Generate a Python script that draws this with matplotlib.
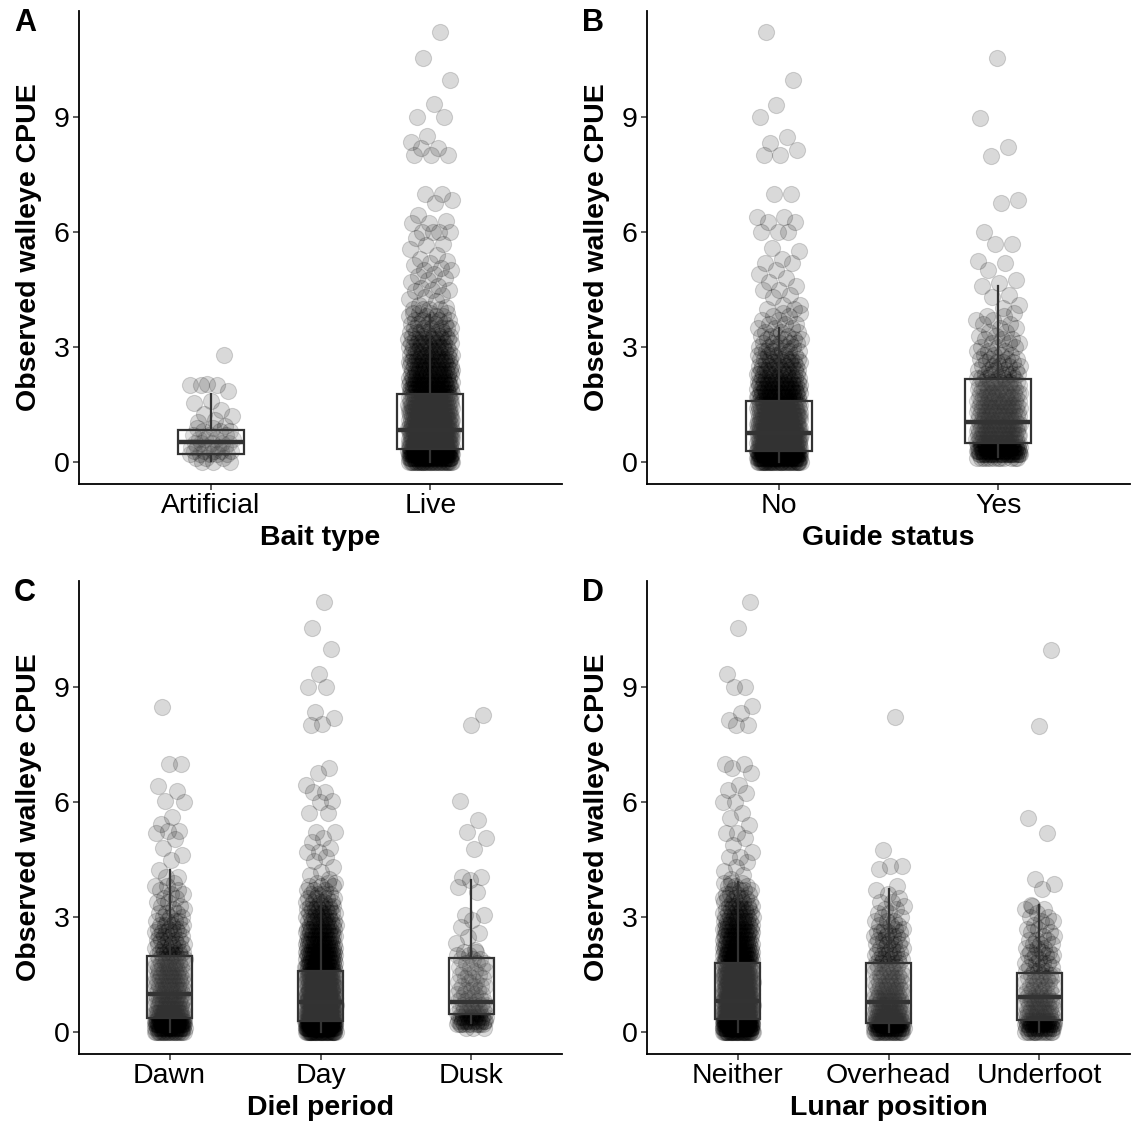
import numpy as np
import matplotlib.pyplot as plt

plt.rcParams['font.family'] = ['Liberation Sans', 'DejaVu Sans']

# CPUE levels for the dense part of each group (0.1 wide bins)
cpue_bins = [0.0, 0.1, 0.2, 0.3, 0.4, 0.5, 0.6, 0.7, 0.8, 0.9,
             1.0, 1.1, 1.2, 1.3, 1.4, 1.5, 1.6, 1.7, 1.8, 1.9,
             2.0, 2.1, 2.2, 2.3, 2.4, 2.5, 2.6, 2.7, 2.8, 2.9,
             3.0, 3.1, 3.2, 3.3, 3.4, 3.5, 3.6, 3.7, 3.8, 3.9]

# number of trips in each bin, and the scattered higher observations
artificial_counts = [3, 3, 5, 5, 5, 5, 4, 3, 3, 2] + [0] * 30
artificial_high = [2.78, 2.04, 2.02, 2.0, 2.0, 1.84, 1.6, 1.55, 1.36, 1.25, 1.2, 1.1, 1.05, 0.95]
live_counts = [35, 35, 40, 40, 38, 37, 33, 32, 30, 30, 28, 27, 25, 25, 23, 22, 20, 20, 18, 18,
               16, 16, 14, 14, 13, 12, 11, 11, 10, 10, 9, 9, 8, 7, 6, 6, 5, 5, 4, 4]
live_high = [11.22, 10.55, 9.97, 9.34, 9.0, 9.0, 8.5, 8.35, 8.2, 8.2, 8.0, 8.0, 8.0,
             7.0, 7.0, 6.84, 6.76, 6.44, 6.3, 6.24, 6.24, 6.0, 6.0, 6.0, 6.0,
             5.85, 5.7, 5.65, 5.55, 5.4, 5.3, 5.25, 5.2, 5.14, 5.05, 5.0, 5.0,
             4.9, 4.85, 4.8, 4.75, 4.7, 4.6, 4.55, 4.5, 4.5, 4.45, 4.35, 4.3,
             4.25, 4.2, 4.1, 4.05, 4.0, 4.0, 4.0, 4.0]

no_counts = [38, 37, 40, 40, 35, 35, 30, 30, 28, 27, 25, 25, 23, 22, 20, 20, 17, 17, 15, 15,
             13, 12, 10, 10, 9, 8, 7, 7, 6, 6, 5, 5, 4, 4, 3, 3, 3, 2, 2, 2]
no_high = [11.22, 9.97, 9.31, 9.0, 8.49, 8.32, 8.14, 8.0, 8.0, 7.0, 7.0, 6.4, 6.4,
           6.27, 6.25, 6.0, 6.0, 6.0, 5.58, 5.5, 5.3, 5.2, 5.2, 5.0, 4.9, 4.8,
           4.7, 4.6, 4.5, 4.5, 4.36, 4.3, 4.1, 4.1, 4.0, 4.0]
yes_counts = [0, 12, 27, 27, 21, 21, 16, 15, 14, 14, 13, 12, 12, 12, 11, 11, 11, 10, 10, 10,
              8, 7, 6, 6, 5, 5, 4, 4, 4, 3, 3, 3, 3, 2, 2, 2, 2, 2, 2, 1]
yes_high = [10.55, 8.97, 8.22, 7.98, 6.84, 6.76, 6.0, 5.7, 5.68, 5.24, 5.2, 5.0,
            4.75, 4.67, 4.59, 4.36, 4.3, 4.1, 4.02]

dawn_counts = [22, 23, 26, 26, 19, 19, 12, 11, 10, 10, 9, 9, 9, 9, 8, 8, 8, 8, 8, 7,
               6, 6, 5, 5, 5, 4, 5, 4, 4, 4, 3, 3, 2, 2, 2, 2, 2, 2, 2, 1]
dawn_high = [8.48, 7.0, 7.0, 6.42, 6.29, 6.03, 6.0, 5.61, 5.43, 5.25, 5.25, 5.19,
             5.03, 4.8, 4.62, 4.49, 4.23, 4.05, 4.05]
day_counts = [38, 37, 40, 40, 35, 35, 30, 30, 28, 27, 25, 25, 23, 22, 20, 20, 18, 17, 15, 15,
              14, 13, 12, 12, 11, 10, 9, 9, 8, 8, 7, 7, 6, 5, 5, 4, 4, 3, 3, 3]
day_high = [11.22, 10.54, 9.99, 9.34, 9.0, 9.0, 8.35, 8.19, 8.04, 8.0, 6.89, 6.76,
            6.44, 6.26, 6.26, 6.03, 6.0, 5.71, 5.71, 5.22, 5.22, 5.06, 4.96, 4.8,
            4.7, 4.7, 4.57, 4.45, 4.3, 4.17, 4.1, 4.0]
dusk_counts = [0, 3, 10, 10, 10, 9, 6, 5, 4, 4, 4, 4, 4, 3, 3, 3, 3, 3, 3, 3,
               2, 2] + [0] * 18
dusk_high = [8.27, 8.01, 6.03, 5.53, 5.22, 5.06, 4.77, 4.05, 4.05, 3.96, 3.79, 3.66,
             3.05, 3.05, 2.92, 2.74, 2.58, 2.48, 2.32, 2.14]

neither_counts = [35, 35, 38, 37, 34, 34, 29, 29, 26, 26, 24, 24, 22, 22, 20, 20, 18, 18, 16, 16,
                  14, 14, 13, 12, 11, 11, 10, 10, 9, 9, 8, 7, 6, 6, 5, 5, 4, 4, 3, 3]
neither_high = [11.22, 10.54, 9.34, 9.0, 9.0, 8.5, 8.32, 8.14, 8.0, 8.0, 7.0, 7.0,
                6.89, 6.76, 6.44, 6.31, 6.23, 6.0, 6.0, 5.71, 5.58, 5.4, 5.19, 5.19,
                5.06, 4.88, 4.7, 4.57, 4.57, 4.43, 4.3, 4.2, 4.1, 4.0]
overhead_counts = [21, 21, 23, 22, 15, 15, 11, 10, 9, 9, 8, 8, 7, 6, 6, 5, 6, 5, 5, 5,
                   4, 4, 4, 4, 4, 4, 4, 3, 3, 3, 2, 2, 2, 1, 2, 1, 1, 1, 0, 0]
overhead_high = [8.23, 4.75, 4.33, 4.33, 4.25, 3.82]
underfoot_counts = [14, 13, 17, 16, 11, 10, 8, 7, 8, 7, 6, 5, 5, 5, 5, 4, 4, 3, 4, 3,
                    4, 3, 3, 3, 3, 2, 2, 2, 2, 2, 2, 1, 2, 1, 0, 0, 0, 0, 0, 0]
underfoot_high = [9.97, 7.98, 5.58, 5.19, 4.0, 3.87, 3.73, 3.31]

# boxplot summaries: lower whisker, Q1, median, Q3, upper whisker
bait_box = [[0.03, 0.21, 0.52, 0.84, 1.78], [0.0, 0.35, 0.84, 1.78, 3.84]]
guide_box = [[0.0, 0.28, 0.75, 1.59, 3.49], [0.14, 0.50, 1.05, 2.17, 4.59]]
diel_box = [[0.0, 0.37, 0.99, 1.98, 4.24], [0.0, 0.28, 0.77, 1.60, 3.57],
            [0.23, 0.48, 0.79, 1.92, 3.96]]
lunar_box = [[0.0, 0.33, 0.81, 1.79, 3.91], [0.0, 0.24, 0.77, 1.80, 3.73],
             [0.0, 0.32, 0.91, 1.55, 3.31]]

panels = [
    ('A', 'Bait type', ['Artificial', 'Live'],
     [(artificial_counts, artificial_high), (live_counts, live_high)], bait_box),
    ('B', 'Guide status', ['No', 'Yes'],
     [(no_counts, no_high), (yes_counts, yes_high)], guide_box),
    ('C', 'Diel period', ['Dawn', 'Day', 'Dusk'],
     [(dawn_counts, dawn_high), (day_counts, day_high), (dusk_counts, dusk_high)], diel_box),
    ('D', 'Lunar position', ['Neither', 'Overhead', 'Underfoot'],
     [(neither_counts, neither_high), (overhead_counts, overhead_high),
      (underfoot_counts, underfoot_high)], lunar_box),
]


def jitter(n, width=0.1):
    # evenly spread horizontal offsets (golden-ratio sequence)
    u = (np.arange(n) * 0.6180339887 + 0.31) % 1.0
    return (2 * u - 1) * width


W, H = 1134, 1124
fig = plt.figure(figsize=(W / 100, H / 100), dpi=100)

# axes boxes in pixels: left, right, top, bottom
boxes = [(79, 562, 10.5, 483.5), (647, 1130, 10.5, 483.5),
         (79, 562, 580.5, 1053.5), (647, 1130, 580.5, 1053.5)]
letter_xy = [(14, 8), (582, 8), (14, 578), (582, 578)]
box_col = '#333333'
FS = 20.5

for (letter, xlab, cats, groups, stats), (l, r, t, b), (lx, ly) in zip(panels, boxes, letter_xy):
    ax = fig.add_axes([l / W, 1 - b / H, (r - l) / W, (b - t) / H])
    for i, (counts, high) in enumerate(groups):
        yy = np.concatenate([np.repeat(cpue_bins, counts), high])
        xx = i + 1 + jitter(len(yy))
        ax.scatter(xx, yy, s=135, c='black', alpha=0.15, edgecolors='black',
                   linewidths=0.8, zorder=2)

    bstats = [dict(whislo=s[0], q1=s[1], med=s[2], q3=s[3], whishi=s[4], fliers=[])
              for s in stats]
    ax.bxp(bstats, positions=np.arange(1, len(cats) + 1), widths=0.3,
           showcaps=False, showfliers=False, patch_artist=True,
           boxprops=dict(facecolor=(1, 1, 1, 0.2), edgecolor=box_col, linewidth=1.6),
           medianprops=dict(color=box_col, linewidth=3.2, solid_capstyle='butt'),
           whiskerprops=dict(color=box_col, linewidth=1.6), zorder=3)

    n = len(cats)
    ax.set_xlim(0.4, n + 0.6)
    ax.set_ylim(-0.561, 11.781)
    ax.set_xticks(np.arange(1, n + 1))
    ax.set_xticklabels(cats)
    ax.set_yticks([0, 3, 6, 9])
    ax.set_xlabel(xlab, fontsize=FS, fontweight='bold', labelpad=4)
    ax.set_ylabel('Observed walleye CPUE', fontsize=FS, fontweight='bold', labelpad=8)
    ax.tick_params(labelsize=FS, length=4, width=1.1, color=box_col, pad=3)
    for side in ['top', 'right']:
        ax.spines[side].set_visible(False)
    for side in ['left', 'bottom']:
        ax.spines[side].set_linewidth(1.3)
    fig.text(lx / W, 1 - ly / H, letter, fontsize=22, fontweight='bold',
             ha='left', va='top')

fig.savefig('out.png', dpi=100)
